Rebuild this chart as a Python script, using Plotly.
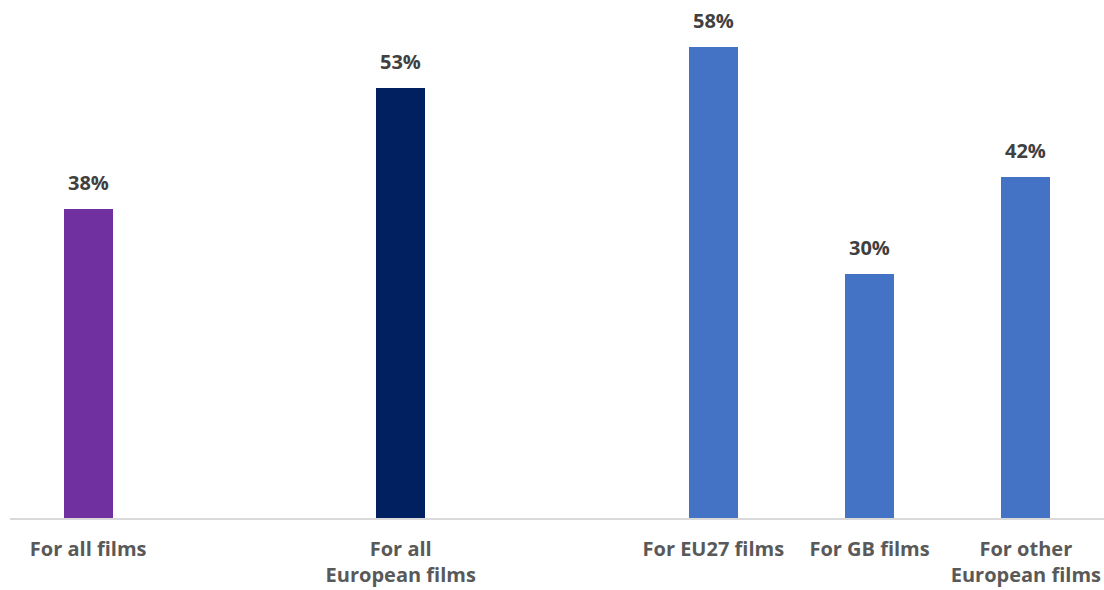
import plotly.graph_objects as go

# Share of films, grouped: overall / all European / European by origin
categories = ["For all films", "For all<br>European films", "For EU27 films",
              "For GB films", "For other<br>European films"]
values = [38, 53, 58, 30, 42]
groups = [0, 1, 2, 2, 2]
colors = ["#7030A0", "#002060", "#4472C4", "#4472C4", "#4472C4"]

# one empty slot between consecutive groups
positions = [i + g for i, g in enumerate(groups)]

FONT = "'Open Sans', Lato, sans-serif"

fig = go.Figure(
    go.Bar(
        x=positions,
        y=values,
        width=0.315,
        marker=dict(color=colors, line=dict(width=0)),
        hoverinfo="skip",
    )
)

for x, v in zip(positions, values):
    fig.add_annotation(
        x=x, y=v, text=f"<b>{v}%</b>", showarrow=False,
        yanchor="bottom", yshift=11,
        font=dict(family=FONT, size=20, color="#404040"),
    )

fig.update_layout(
    width=1104, height=590,
    margin=dict(l=10, r=0, t=0, b=72),
    paper_bgcolor="white", plot_bgcolor="white",
    showlegend=False,
    bargap=0,
    xaxis=dict(
        range=[-0.5, positions[-1] + 0.5],
        tickvals=positions,
        ticktext=[f"<b>{c}</b>" for c in categories],
        tickfont=dict(family=FONT, size=20, color="#595959"),
        showgrid=False, zeroline=False,
        showline=True, linecolor="#D9D9D9", linewidth=2,
        ticks="", ticklabelstandoff=12,
    ),
    yaxis=dict(range=[0, 63.8], visible=False, showgrid=False, zeroline=False),
)

fig.write_html("out.html")
